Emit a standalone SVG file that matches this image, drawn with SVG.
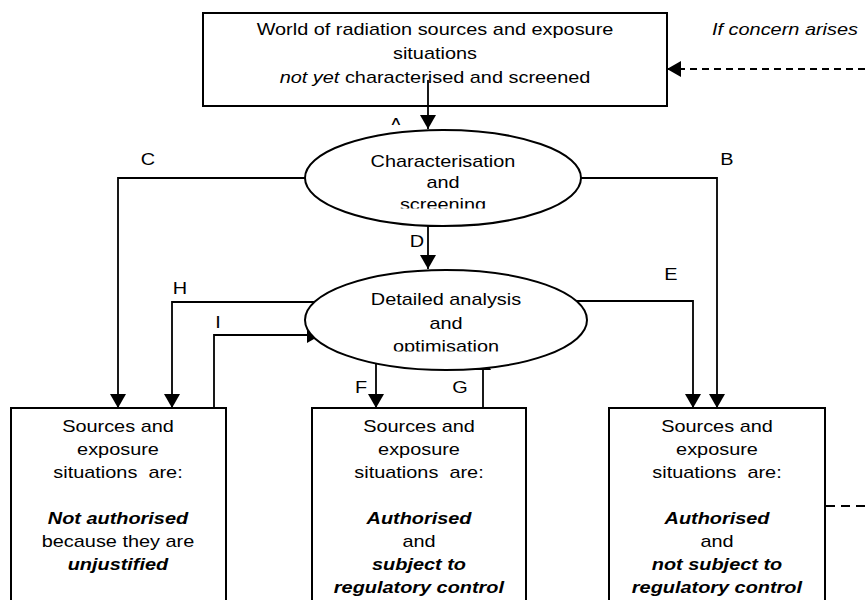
<svg xmlns="http://www.w3.org/2000/svg" width="865" height="600" viewBox="0 0 865 600">
<style>
text { font-family: "Liberation Sans", Arial, sans-serif; font-size: 17px; fill: #000; text-anchor: middle; transform-box: fill-box; transform-origin: center; transform: scaleX(1.17); }
.it { font-style: italic; }
.bi { font-style: italic; font-weight: bold; }
.box { fill: none; stroke: #000; stroke-width: 2; }
.ell { fill: #fff; stroke: #000; stroke-width: 2; }
.ln { fill: none; stroke: #000; stroke-width: 1.8; }
.arr { marker-end: url(#ah); }
.dash1 { stroke-dasharray: 7 5; }
.dash2 { stroke-dasharray: 9 6; }
</style>
<defs>
<marker id="ah" markerUnits="userSpaceOnUse" markerWidth="14" markerHeight="16" refX="14" refY="8" orient="auto">
<path d="M0,0 L14,8 L0,16 Z" fill="#000"/>
</marker>
<clipPath id="clipA"><rect x="380" y="100" width="40" height="25"/></clipPath>
<clipPath id="clipE1"><rect x="300" y="130" width="290" height="78.5"/></clipPath>
<clipPath id="clipE2"><rect x="300" y="270" width="295" height="81.5"/></clipPath>
</defs>

<g id="connectors">
<!-- A -->
<line class="ln arr" x1="428" y1="80" x2="428" y2="129"/>
<g clip-path="url(#clipA)"><text x="396" y="130">A</text></g>
<!-- C -->
<polyline class="ln arr" points="312,178 118,178 118,408"/>
<text x="148" y="165">C</text>
<!-- B -->
<polyline class="ln arr" points="575,178 717,178 717,408"/>
<text x="727" y="165">B</text>
<!-- D -->
<line class="ln arr" x1="428" y1="224" x2="428" y2="269"/>
<text x="417" y="247">D</text>
<!-- H -->
<polyline class="ln arr" points="320,302 172,302 172,408"/>
<text x="180" y="294">H</text>
<!-- I -->
<polyline class="ln arr" points="214,408 214,335 321,335"/>
<text x="218" y="328">I</text>
<!-- E -->
<polyline class="ln arr" points="572,301 693,301 693,408"/>
<text x="671" y="280">E</text>
<!-- F -->
<line class="ln arr" x1="376" y1="362" x2="376" y2="408"/>
<text x="361" y="393">F</text>
<!-- G -->
<line class="ln arr" x1="483" y1="408" x2="483" y2="356"/>
<text x="460" y="393">G</text>
<!-- If concern arises -->
<line class="ln arr dash1" x1="865" y1="69" x2="667" y2="69"/>
<text class="it" x="785" y="35">If concern arises</text>
<!-- dashed from right box -->
<line class="ln dash2" x1="826" y1="506" x2="865" y2="506"/>
</g>

<g id="world">
<rect class="box" x="203" y="13" width="464" height="93"/>
<text x="435" y="35">World of radiation sources and exposure</text>
<text x="435" y="59">situations</text>
<text x="435" y="83"><tspan class="it">not yet</tspan> characterised and screened</text>
</g>

<g id="screening">
<ellipse class="ell" cx="443" cy="178" rx="138" ry="48"/>
<g clip-path="url(#clipE1)">
<text x="443" y="167">Characterisation</text>
<text x="443" y="188">and</text>
<text x="443" y="210">screening</text>
</g>
</g>

<g id="analysis">
<ellipse class="ell" cx="446" cy="320" rx="141" ry="50"/>
<g clip-path="url(#clipE2)">
<text x="446" y="305">Detailed analysis</text>
<text x="446" y="329">and</text>
<text x="446" y="352">optimisation</text>
</g>
</g>

<g id="not-authorised">
<rect class="box" x="11" y="408" width="215" height="210"/>
<text x="118" y="432">Sources and</text>
<text x="118" y="455">exposure</text>
<text x="118" y="478">situations&#160; are:</text>
<text class="bi" x="118" y="524">Not authorised</text>
<text x="118" y="547">because they are</text>
<text class="bi" x="118" y="570">unjustified</text>
</g>

<g id="authorised-controlled">
<rect class="box" x="312" y="408" width="214" height="210"/>
<text x="419" y="432">Sources and</text>
<text x="419" y="455">exposure</text>
<text x="419" y="478">situations&#160; are:</text>
<text class="bi" x="419" y="524">Authorised</text>
<text x="419" y="547">and</text>
<text class="bi" x="419" y="570">subject to</text>
<text class="bi" x="419" y="593">regulatory control</text>
</g>

<g id="authorised-not-controlled">
<rect class="box" x="609" y="408" width="216" height="210"/>
<text x="717" y="432">Sources and</text>
<text x="717" y="455">exposure</text>
<text x="717" y="478">situations&#160; are:</text>
<text class="bi" x="717" y="524">Authorised</text>
<text x="717" y="547">and</text>
<text class="bi" x="717" y="570">not subject to</text>
<text class="bi" x="717" y="593">regulatory control</text>
</g>
</svg>
